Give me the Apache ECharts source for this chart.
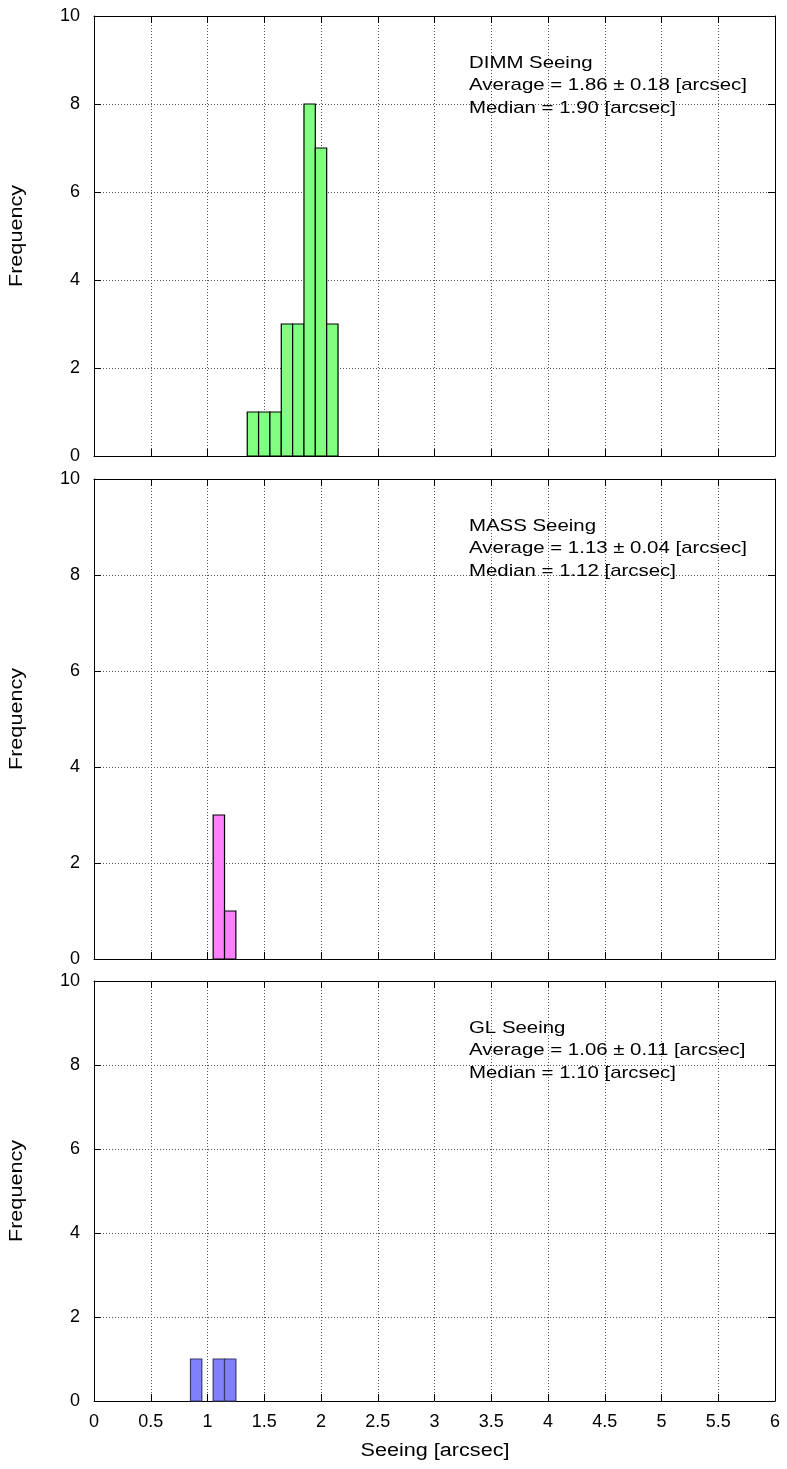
<!DOCTYPE html>
<html>
<head>
<meta charset="utf-8">
<script src="https://cdn.jsdelivr.net/npm/echarts@6/dist/echarts.min.js"></script>
<style>
  html, body { margin: 0; padding: 0; background: #fff; }
  #chart { width: 787px; height: 1469px; }
</style>
</head>
<body>
<div id="chart"></div>
<script>
// Histogram bin centres [arcsec] and counts, bin width 0.1 arcsec
const binWidth = 0.1;
const dimmCenters = [1.4, 1.5, 1.6, 1.7, 1.8, 1.9, 2.0, 2.1];
const dimmCounts  = [1, 1, 1, 3, 3, 8, 7, 3];
const massCenters = [1.1, 1.2];
const massCounts  = [3, 1];
const glCenters   = [0.9, 1.1, 1.2];
const glCounts    = [1, 1, 1];

const xTicks = [0, 0.5, 1, 1.5, 2, 2.5, 3, 3.5, 4, 4.5, 5, 5.5, 6];
const yTicks = [0, 2, 4, 6, 8, 10];

const dimmText = ['DIMM Seeing', 'Average = 1.86 \u00b1 0.18 [arcsec]', 'Median = 1.90 [arcsec]'];
const massText = ['MASS Seeing', 'Average = 1.13 \u00b1 0.04 [arcsec]', 'Median = 1.12 [arcsec]'];
const glText   = ['GL Seeing', 'Average = 1.06 \u00b1 0.11 [arcsec]', 'Median = 1.10 [arcsec]'];

const yTitle = 'Frequency';
const xTitle = 'Seeing [arcsec]';

const FONT = '"Liberation Sans", Arial, Helvetica, sans-serif';
const FS = 17;
const STRETCH = 1.2;   // glyphs are set slightly wide

const panels = [
  { top: 16,  height: 440, centers: dimmCenters, counts: dimmCounts, fill: '#80ff80', edge: '#000000', text: dimmText, showX: false },
  { top: 479, height: 480, centers: massCenters, counts: massCounts, fill: '#ff80ff', edge: '#000000', text: massText, showX: false },
  { top: 981, height: 420, centers: glCenters,   counts: glCounts,   fill: '#8080ff', edge: '#3a3a6a', text: glText,   showX: true }
];

const LEFT = 94, RIGHT = 775, W = 787;

const grids = [], xAxes = [], yAxes = [], series = [], graphics = [];
const gridLine = () => ({ show: true, lineStyle: { color: '#555', type: [1, 2], width: 1 } });
const tickIn = () => ({ show: true, inside: true, length: 7, lineStyle: { color: '#000', width: 1 } });
const frameLine = () => ({ show: true, onZero: false, lineStyle: { color: '#000', width: 1 } });

panels.forEach((p, i) => {
  grids.push({ left: LEFT, right: W - RIGHT, top: p.top, height: p.height, show: false });
  // bottom x axis
  xAxes.push({
    type: 'value', gridIndex: i, min: 0, max: 6, interval: 0.5, position: 'bottom',
    axisLine: frameLine(), axisTick: tickIn(), splitLine: gridLine(),
    axisLabel: { show: p.showX, margin: 12, color: '#000', fontFamily: FONT, fontSize: 18,
                 formatter: v => String(v) }
  });
  // top x axis, mirrored ticks
  xAxes.push({
    type: 'value', gridIndex: i, min: 0, max: 6, interval: 0.5, position: 'top',
    axisLine: frameLine(), axisTick: tickIn(), splitLine: { show: false }, axisLabel: { show: false }
  });
  // left y axis
  yAxes.push({
    type: 'value', gridIndex: i, min: 0, max: 10, interval: 2, position: 'left',
    axisLine: frameLine(), axisTick: tickIn(), splitLine: gridLine(),
    axisLabel: { show: true, margin: 14, color: '#000', fontFamily: FONT, fontSize: 18 }
  });
  // right y axis, mirrored ticks
  yAxes.push({
    type: 'value', gridIndex: i, min: 0, max: 10, interval: 2, position: 'right',
    axisLine: frameLine(), axisTick: tickIn(), splitLine: { show: false }, axisLabel: { show: false }
  });

  series.push({
    type: 'custom',
    xAxisIndex: 2 * i, yAxisIndex: 2 * i,
    data: p.centers.map((c, k) => [c, p.counts[k]]),
    renderItem: function (params, api) {
      const c = api.value(0), n = api.value(1);
      const p0 = api.coord([c - binWidth / 2, n]);
      const p1 = api.coord([c + binWidth / 2, 0]);
      return {
        type: 'rect',
        shape: { x: p0[0], y: p0[1], width: p1[0] - p0[0], height: p1[1] - p0[1] },
        style: { fill: p.fill, stroke: p.edge, lineWidth: 1.2 }
      };
    },
    z: 3
  });

  // statistics block
  graphics.push({
    type: 'text', x: 469, y: p.top + 36, scaleX: STRETCH, originX: 0, z: 10,
    style: { text: p.text.join('\n'), fill: '#000', font: FS + 'px ' + FONT, lineHeight: 22.5 }
  });
  // y-axis title
  graphics.push({
    type: 'text', x: 17, y: p.top + p.height / 2, rotation: Math.PI / 2, scaleX: STRETCH, z: 10,
    style: { text: yTitle, fill: '#000', font: '18px ' + FONT, textAlign: 'center', textVerticalAlign: 'middle' }
  });
});

// x-axis title
graphics.push({
  type: 'text', x: 435, y: 1451, scaleX: STRETCH, z: 10,
  style: { text: xTitle, fill: '#000', font: '18px ' + FONT, textAlign: 'center', textVerticalAlign: 'middle' }
});

const chart = echarts.init(document.getElementById('chart'), null, { renderer: 'canvas' });
chart.setOption({
  animation: false,
  backgroundColor: '#fff',
  grid: grids, xAxis: xAxes, yAxis: yAxes, series: series, graphic: graphics
});
</script>
</body>
</html>
